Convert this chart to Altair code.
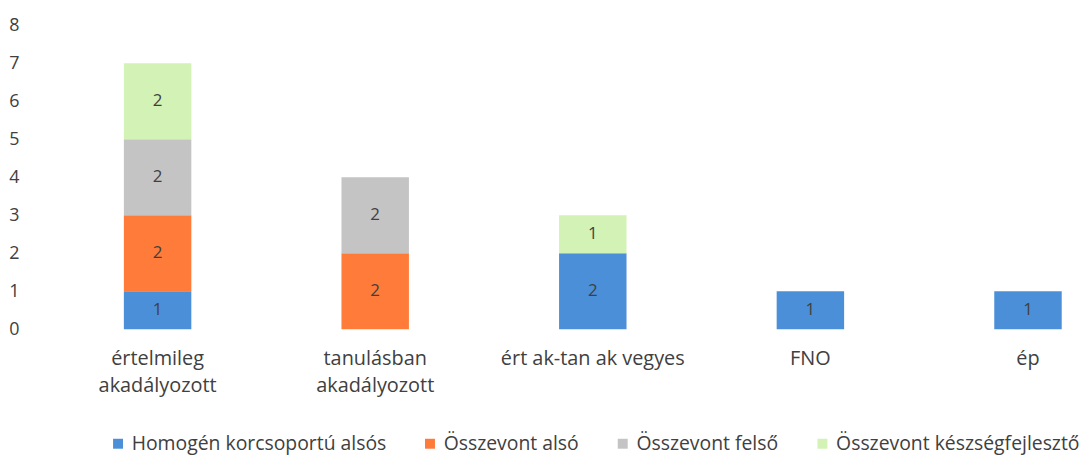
import altair as alt
import pandas as pd

categories = ["értelmileg akadályozott", "tanulásban akadályozott", "ért ak-tan ak vegyes", "FNO", "ép"]
series = ["Homogén korcsoportú alsós", "Összevont alsó", "Összevont felső", "Összevont készségfejlesztő"]
homogen = [1, 0, 2, 1, 1]
ossz_also = [2, 2, 0, 0, 0]
ossz_felso = [2, 2, 0, 0, 0]
ossz_kesz = [2, 0, 1, 0, 0]
y_ticks = [0, 1, 2, 3, 4, 5, 6, 7, 8]
colors = ["#4A8FD8", "#FF7B3A", "#C4C4C4", "#D2F2B6"]

rows = []
for si, (s, vals) in enumerate(zip(series, [homogen, ossz_also, ossz_felso, ossz_kesz])):
    for c, v in zip(categories, vals):
        if v > 0:
            rows.append({"kat": c, "sorozat": s, "ertek": v, "rend": si})
df = pd.DataFrame(rows)

FONT = "Open Sans"
TXT = "#404040"

xscale = alt.Scale(paddingInner=0.69, paddingOuter=0.2375, align=0.9)
yscale = alt.Scale(domain=[0, 8])
xaxis = alt.Axis(labelAngle=0, domain=False, ticks=False, labelPadding=19, labelLimit=0,
                 labelFontSize=20, labelColor=TXT, labelFont=FONT, labelLineHeight=28,
                 labelExpr="indexof(datum.label,'akadályozott')>0 ? split(datum.label,' ') : datum.label")
yaxis = alt.Axis(values=y_ticks, labelOverlap=False, domain=False, ticks=False, grid=False,
                 labelPadding=12, labelFontSize=18, labelColor=TXT, labelFont=FONT)

base = alt.Chart(df).transform_stack(
    stack="ertek", groupby=["kat"], as_=["y0", "y1"], sort=[alt.SortField("rend", order="ascending")]
).transform_calculate(mid="(datum.y0+datum.y1)/2")

bars = base.mark_bar().encode(
    x=alt.X("kat:N", sort=categories, title=None, scale=xscale, axis=xaxis),
    y=alt.Y("y0:Q", title=None, scale=yscale, axis=yaxis),
    y2="y1:Q",
    color=alt.Color("sorozat:N", sort=series,
                    scale=alt.Scale(domain=series, range=colors),
                    legend=alt.Legend(title=None, orient="none", direction="horizontal",
                                      legendX=78, legendY=411, symbolType="square", symbolSize=100,
                                      labelFontSize=19.5, labelColor=TXT, labelFont=FONT, labelLimit=0,
                                      columnPadding=34, symbolStrokeWidth=0)),
)

labels = base.mark_text(fontSize=17, color=TXT, font=FONT).encode(
    x=alt.X("kat:N", sort=categories, title=None, scale=xscale, axis=xaxis),
    y=alt.Y("mid:Q", title=None, scale=yscale, axis=yaxis),
    text="ertek:Q",
)

chart = (bars + labels).properties(
    width=1048, height=306,
    padding={"left": 0, "top": 7, "right": 0, "bottom": 0},
).configure(background="white").configure_view(stroke=None, strokeWidth=0)

chart.save("out.html", embed_options={"renderer": "svg", "actions": False})
